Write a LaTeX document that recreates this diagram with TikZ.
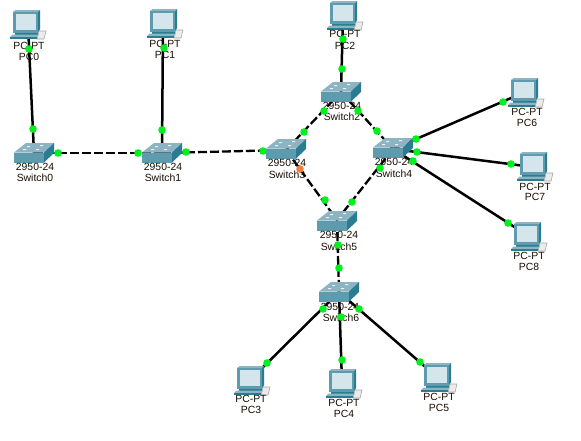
\documentclass[tikz,border=0pt]{standalone}
\usepackage{fontspec}
\setmainfont{Liberation Sans}
\definecolor{tealA}{HTML}{5F9BAE}
\definecolor{tealB}{HTML}{2A7C90}
\definecolor{tealC}{HTML}{8DB4C2}
\definecolor{scr}{HTML}{D5E5EC}
\definecolor{dotgreen}{HTML}{00F01E}
\definecolor{dotorange}{HTML}{F0803C}
\tikzset{
  anchorbox/.style={inner sep=0pt,minimum size=1pt},
  lbl/.style={inner sep=0pt,font=\fontsize{10.4}{11}\selectfont,text=black!90!orange},
  solidlink/.style={draw=black,line width=2.5pt},
  dashlink/.style={draw=black,line width=2.3pt,dash pattern=on 9pt off 3pt},
  gdot/.style={circle,fill=dotgreen,inner sep=0pt,minimum size=7.6pt},
  odot/.style={circle,fill=dotorange,inner sep=0pt,minimum size=7.6pt},
  pcicon/.pic={
    \fill[tealC] (0,2)--(2.5,0)--(27,0)--(25,2)--cycle;
    \fill[tealB] (25,2)--(27,0)--(27,19)--(25,23)--cycle;
    \fill[tealA] (0,2) rectangle (25,23);
    \fill[scr] (3,4) rectangle (22.5,20);
    \fill[tealB] (2,22.5) rectangle (25,24.5);
    \fill[black!8] (26,21)--(33,21)--(31,29)--(24,29)--cycle;
    \draw[black!35,line width=.6pt] (26,21)--(33,21)--(31,29)--(24,29)--cycle;
    \fill[tealC] (-0.5,24.5)--(26,24.5)--(23.5,27)--(-3,27)--cycle;
    \fill[tealB] (-3,27) rectangle (23.5,29);
  },
  swicon/.pic={
    \fill[tealC] (0,9.5)--(12,0)--(40,0)--(30,9.5)--cycle;
    \fill[tealA] (0,9.5) rectangle (30,19.5);
    \fill[tealB] (30,9.5)--(40,0)--(40,10)--(30,19.5)--cycle;
    \fill[white!85!tealC] (13,3) rectangle (16,4) (26,2) rectangle (29,3)
      (9,6) rectangle (12,7) (22,6) rectangle (25,7);
  }
}
\begin{document}
\begin{tikzpicture}[x=1pt,y=-1pt]
\useasboundingbox (0,0) rectangle (581,440);
\fill[white] (0,0) rectangle (581,440);
% device anchors
\node[anchorbox] (pc0) at (28,25) {};
\node[anchorbox] (pc1) at (163,24) {};
\node[anchorbox] (pc2) at (343,16) {};
\node[anchorbox] (pc3) at (250,380) {};
\node[anchorbox] (pc4) at (342,383) {};
\node[anchorbox] (pc5) at (437,377) {};
\node[anchorbox] (pc6) at (525,92) {};
\node[anchorbox] (pc7) at (533,167) {};
\node[anchorbox] (pc8) at (527,235) {};
\node[anchorbox] (sw0) at (34,153) {};
\node[anchorbox] (sw1) at (162,153) {};
\node[anchorbox] (sw2) at (341,92) {};
\node[anchorbox] (sw3) at (286,150) {};
\node[anchorbox] (sw4) at (393,149) {};
\node[anchorbox] (sw5) at (337,220) {};
\node[anchorbox] (sw6) at (339,292) {};
% links
\draw[solidlink] (pc0.center)--(sw0.center);
\draw[solidlink] (pc1.center)--(sw1.center);
\draw[solidlink] (pc2.center)--(sw2.center);
\draw[solidlink] (pc3.center)--(sw6.center);
\draw[solidlink] (pc4.center)--(sw6.center);
\draw[solidlink] (pc5.center)--(sw6.center);
\draw[solidlink] (pc6.center)--(sw4.center);
\draw[solidlink] (pc7.center)--(sw4.center);
\draw[solidlink] (pc8.center)--(sw4.center);
\draw[dashlink] (sw0.center)--(sw1.center);
\draw[dashlink] (sw1.center)--(sw3.center);
\draw[dashlink] (sw3.center)--(sw2.center);
\draw[dashlink] (sw2.center)--(sw4.center);
\draw[dashlink] (sw3.center)--(sw5.center);
\draw[dashlink] (sw4.center)--(sw5.center);
\draw[dashlink] (sw5.center)--(sw6.center);
% icons
\pic at (13,10) {pcicon};
\pic at (150,9) {pcicon};
\pic at (330,1) {pcicon};
\pic at (237,366) {pcicon};
\pic at (329,369) {pcicon};
\pic at (424,363) {pcicon};
\pic at (511,78) {pcicon};
\pic at (520,152) {pcicon};
\pic at (514,222) {pcicon};
\pic at (14,143) {swicon};
\pic at (142,143) {swicon};
\pic at (321,82) {swicon};
\pic at (266,139) {swicon};
\pic at (373,138) {swicon};
\pic at (317,211) {swicon};
\pic at (319,282) {swicon};
% labels
\node[lbl] (lp0a) at (29,46) {PC-PT};  \node[lbl] (lp0b) at (29,57) {PC0};
\node[lbl] (lp1a) at (165,44) {PC-PT}; \node[lbl] (lp1b) at (165,55) {PC1};
\node[lbl] (lp2a) at (345,34) {PC-PT}; \node[lbl] (lp2b) at (345,46) {PC2};
\node[lbl] (lp3a) at (251,399) {PC-PT};\node[lbl] (lp3b) at (251,410) {PC3};
\node[lbl] (lp4a) at (344,403) {PC-PT};\node[lbl] (lp4b) at (344,414) {PC4};
\node[lbl] (lp5a) at (439,397) {PC-PT};\node[lbl] (lp5b) at (439,408) {PC5};
\node[lbl] (lp6a) at (527,112) {PC-PT};\node[lbl] (lp6b) at (527,123) {PC6};
\node[lbl] (lp7a) at (535,187) {PC-PT};\node[lbl] (lp7b) at (535,197) {PC7};
\node[lbl] (lp8a) at (529,256) {PC-PT};\node[lbl] (lp8b) at (529,267) {PC8};
\node[lbl] (ls0a) at (35,167) {2950-24};\node[lbl] (ls0b) at (35,178) {Switch0};
\node[lbl] (ls1a) at (163,167) {2950-24};\node[lbl] (ls1b) at (163,178) {Switch1};
\node[lbl] (ls2a) at (342,106) {2950-24};\node[lbl] (ls2b) at (342,117) {Switch2};
\node[lbl] (ls3a) at (287,163) {2950-24};\node[lbl] (ls3b) at (287,174.5) {Switch3};
\node[lbl] (ls4a) at (394,162) {2950-24};\node[lbl] (ls4b) at (394,174) {Switch4};
\node[lbl] (ls5a) at (339,235) {2950-24};\node[lbl] (ls5b) at (339,247) {Switch5};
\node[lbl] (ls6a) at (340,307) {2950-24};\node[lbl] (ls6b) at (341,318) {Switch6};
% link lights
\foreach \n/\p in {a/{29,49},b/{33,129},c/{164,48},d/{162,130},e/{343,39},f/{342,69},
  g/{58,153},h/{138,153},i/{186,152},j/{263,151},k/{324,111},l/{304,132},m/{358,111},n/{377,131},
  o/{416,139},q/{417,152},r/{413,161},s/{380,168},t/{325,200},u/{352,202},v/{338,245},w/{339,268},
  x/{323,309},y/{341,317},z/{359,309},A/{267,363},B/{342,360},C/{420,362},D/{503,102},E/{511,164},F/{508,223}}
  {\node[gdot] (light\n) at (\p) {};}
\node[odot] (lightO) at (300,169) {};
\end{tikzpicture}
\end{document}
